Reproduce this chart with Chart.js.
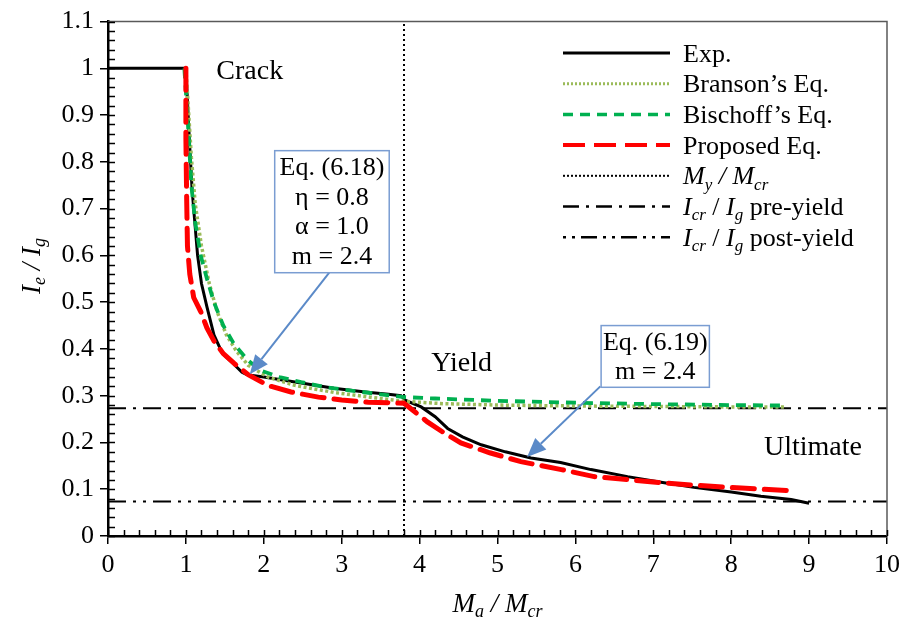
<!DOCTYPE html>
<html>
<head>
<meta charset="utf-8">
<script src="https://cdn.jsdelivr.net/npm/chart.js@4/dist/chart.umd.min.js"></script>
<style>
  html, body { margin: 0; padding: 0; background: #ffffff; }
  #wrap { width: 906px; height: 632px; position: relative; }
</style>
</head>
<body>
<div id="wrap"><canvas id="c" width="906" height="632"></canvas></div>
<script>
// ---- axis ticks ----
const xTickVals = [0, 1, 2, 3, 4, 5, 6, 7, 8, 9, 10];
const xTickLabels = ['0', '1', '2', '3', '4', '5', '6', '7', '8', '9', '10'];
const yTickVals = [0, 0.1, 0.2, 0.3, 0.4, 0.5, 0.6, 0.7, 0.8, 0.9, 1.0, 1.1];
const yTickLabels = ['0', '0.1', '0.2', '0.3', '0.4', '0.5', '0.6', '0.7', '0.8', '0.9', '1', '1.1'];

// ---- experimental curve (Ma/Mcr vs Ie/Ig) ----
const expX = [0, 1.0, 1.02, 1.05, 1.08, 1.11, 1.15, 1.2, 1.27, 1.36, 1.47, 1.6, 1.72, 1.78, 2.0, 2.26, 2.6, 2.9, 3.3, 3.6, 3.76, 3.82, 4.02, 4.2, 4.36, 4.55, 4.79, 5.1, 5.43, 5.81, 6.2, 6.67, 7.1, 7.52, 8.0, 8.38, 8.77, 9.0];
const expY = [1.0, 1.0, 0.93, 0.83, 0.74, 0.68, 0.6, 0.54, 0.49, 0.43, 0.39, 0.37, 0.35, 0.345, 0.34, 0.333, 0.324, 0.316, 0.308, 0.303, 0.3, 0.29, 0.276, 0.255, 0.23, 0.212, 0.195, 0.18, 0.167, 0.157, 0.142, 0.127, 0.115, 0.104, 0.094, 0.085, 0.078, 0.07];

// ---- Branson's equation ----
const bransonX = [1.0, 1.03, 1.07, 1.12, 1.2, 1.3, 1.4, 1.52, 1.65, 1.8, 2.05, 2.4, 2.9, 3.4, 3.8, 4.3, 5.0, 6.0, 7.0, 8.0, 8.7];
const bransonY = [1.0, 0.92, 0.81, 0.71, 0.62, 0.54, 0.48, 0.43, 0.395, 0.365, 0.34, 0.322, 0.307, 0.296, 0.288, 0.283, 0.28, 0.278, 0.277, 0.276, 0.276];

// ---- Bischoff's equation ----
const bischoffX = [0.98, 1.0, 1.03, 1.07, 1.12, 1.19, 1.27, 1.36, 1.48, 1.62, 1.8, 1.96, 2.2, 2.48, 2.8, 3.12, 3.5, 3.8, 4.2, 5.0, 6.0, 7.0, 8.0, 8.7];
const bischoffY = [1.0, 0.95, 0.87, 0.75, 0.67, 0.6, 0.55, 0.5, 0.45, 0.41, 0.375, 0.354, 0.34, 0.329, 0.318, 0.311, 0.303, 0.297, 0.294, 0.289, 0.285, 0.282, 0.28, 0.279];

// ---- proposed equation ----
const proposedX = [1.0, 1.0, 1.01, 1.02, 1.05, 1.1, 1.19, 1.27, 1.36, 1.48, 1.62, 1.8, 2.05, 2.35, 2.7, 3.0, 3.34, 3.6, 3.8, 4.1, 4.3, 4.53, 4.9, 5.3, 5.82, 6.24, 6.7, 7.1, 7.5, 7.96, 8.4, 8.73];
const proposedY = [1.0, 0.85, 0.72, 0.62, 0.56, 0.51, 0.48, 0.445, 0.417, 0.39, 0.369, 0.345, 0.322, 0.308, 0.297, 0.291, 0.286, 0.285, 0.284, 0.244, 0.222, 0.199, 0.178, 0.159, 0.142, 0.127, 0.12, 0.114, 0.109, 0.104, 0.1, 0.097];

// ---- reference lines ----
const yieldRatio = 3.8;          // My / Mcr
const icrPreYield = 0.273;       // Icr / Ig before yield
const icrPostYield = 0.074;      // Icr / Ig after yield

const SERIF = '"Liberation Serif", "Times New Roman", serif';

function pts(xs, ys) { return xs.map((x, i) => ({ x: x, y: ys[i] })); }

// mixed text: segments {t, i (italic), s (subscript)}
function segFont(g, size) {
  const fs = g.s ? Math.round(size * 0.66) : size;
  return (g.i ? 'italic ' : '') + fs + 'px ' + SERIF;
}
function richWidth(ctx, segs, size) {
  let w = 0;
  for (const g of segs) {
    ctx.font = segFont(g, size);
    w += ctx.measureText(g.t).width;
  }
  return w;
}
function drawRich(ctx, segs, x, y, size, align) {
  const w = richWidth(ctx, segs, size);
  let cx = align === 'center' ? x - w / 2 : (align === 'right' ? x - w : x);
  ctx.textBaseline = 'alphabetic';
  ctx.textAlign = 'left';
  const base = y + size * 0.33;
  for (const g of segs) {
    ctx.font = segFont(g, size);
    ctx.fillText(g.t, cx, g.s ? base + size * 0.2 : base);
    cx += ctx.measureText(g.t).width;
  }
}

const legendRows = [
  { segs: [{ t: 'Exp.' }], color: '#000000', width: 2.8, dash: [] },
  { segs: [{ t: 'Branson\u2019s Eq.' }], color: '#9BBB59', width: 3, dash: [2, 2] },
  { segs: [{ t: 'Bischoff\u2019s Eq.' }], color: '#00B050', width: 3.5, dash: [10, 7] },
  { segs: [{ t: 'Proposed Eq.' }], color: '#FF0000', width: 4, dash: [22, 9] },
  { segs: [{ t: 'M', i: 1 }, { t: 'y', i: 1, s: 1 }, { t: ' / ', i: 1 }, { t: 'M', i: 1 }, { t: 'cr', i: 1, s: 1 }], color: '#000000', width: 2, dash: [2, 2] },
  { segs: [{ t: 'I', i: 1 }, { t: 'cr', i: 1, s: 1 }, { t: ' / ' }, { t: 'I', i: 1 }, { t: 'g', i: 1, s: 1 }, { t: ' pre-yield' }], color: '#000000', width: 2.5, dash: [16, 7, 3, 7] },
  { segs: [{ t: 'I', i: 1 }, { t: 'cr', i: 1, s: 1 }, { t: ' / ' }, { t: 'I', i: 1 }, { t: 'g', i: 1, s: 1 }, { t: ' post-yield' }], color: '#000000', width: 2.5, dash: [3, 6, 3, 6, 16, 6] }
];

const callouts = [
  { x1: 2.14, x2: 3.61, y1: 0.824, y2: 0.563, lines: ['Eq. (6.18)', '\u03b7 = 0.8', '\u03b1 = 1.0', 'm = 2.4'],
    from: { x: 2.84, y: 0.563 }, to: { x: 1.82, y: 0.346 } },
  { x1: 6.33, x2: 7.72, y1: 0.45, y2: 0.318, lines: ['Eq. (6.19)', 'm = 2.4'],
    from: { x: 6.32, y: 0.32 }, to: { x: 5.38, y: 0.169 } }
];

const stageLabels = [
  { text: 'Crack', x: 1.82, y: 0.994 },
  { text: 'Yield', x: 4.54, y: 0.369 },
  { text: 'Ultimate', x: 9.05, y: 0.188 }
];

function paintDecorations(chart) {
  const ctx = chart.ctx;
  const xs = chart.scales.x, ys = chart.scales.y;
  const a = chart.chartArea;
  ctx.save();
  ctx.setLineDash([]);

  // frame: top and right edges
  ctx.strokeStyle = '#595959';
  ctx.lineWidth = 1.5;
  ctx.beginPath();
  ctx.moveTo(a.left, a.top);
  ctx.lineTo(a.right, a.top);
  ctx.lineTo(a.right, a.bottom);
  ctx.stroke();

  // inward major and minor ticks
  ctx.strokeStyle = '#000000';
  ctx.lineWidth = 1.5;
  ctx.beginPath();
  for (let k = 0; k <= 50; k++) {
    const px = Math.round(xs.getPixelForValue(k * 0.2)) + 0.5;
    ctx.moveTo(px, a.bottom);
    ctx.lineTo(px, a.bottom - 6);
  }
  for (let k = 0; k <= 55; k++) {
    const py = Math.round(ys.getPixelForValue(k * 0.02)) + 0.5;
    ctx.moveTo(a.left, py);
    ctx.lineTo(a.left + 7, py);
  }
  ctx.stroke();

  // stage labels
  ctx.fillStyle = '#000000';
  ctx.textAlign = 'center';
  ctx.textBaseline = 'middle';
  ctx.font = '28px ' + SERIF;
  for (const s of stageLabels) {
    ctx.fillText(s.text, xs.getPixelForValue(s.x), ys.getPixelForValue(s.y));
  }

  // callout boxes with arrows
  for (const c of callouts) {
    const l = xs.getPixelForValue(c.x1), r = xs.getPixelForValue(c.x2);
    const t = ys.getPixelForValue(c.y1), b = ys.getPixelForValue(c.y2);
    const fx = xs.getPixelForValue(c.from.x), fy = ys.getPixelForValue(c.from.y);
    const tx = xs.getPixelForValue(c.to.x), ty = ys.getPixelForValue(c.to.y);
    const ang = Math.atan2(ty - fy, tx - fx);
    const hl = 19, hw = 8;
    const bx = tx - hl * Math.cos(ang), by = ty - hl * Math.sin(ang);
    ctx.strokeStyle = '#5B8AC8';
    ctx.fillStyle = '#5B8AC8';
    ctx.lineWidth = 2;
    ctx.beginPath();
    ctx.moveTo(fx, fy);
    ctx.lineTo(bx, by);
    ctx.stroke();
    ctx.beginPath();
    ctx.moveTo(tx, ty);
    ctx.lineTo(bx + hw * Math.sin(ang), by - hw * Math.cos(ang));
    ctx.lineTo(bx - hw * Math.sin(ang), by + hw * Math.cos(ang));
    ctx.closePath();
    ctx.fill();
    ctx.fillStyle = '#ffffff';
    ctx.fillRect(l, t, r - l, b - t);
    ctx.strokeStyle = '#7A9DD2';
    ctx.lineWidth = 1.5;
    ctx.strokeRect(l, t, r - l, b - t);
    ctx.fillStyle = '#000000';
    ctx.font = '26px ' + SERIF;
    ctx.textAlign = 'center';
    ctx.textBaseline = 'middle';
    const lh = 29.5;
    const y0 = (t + b) / 2 - (c.lines.length - 1) * lh / 2;
    c.lines.forEach((ln, i) => ctx.fillText(ln, (l + r) / 2, y0 + i * lh + 1));
  }

  // legend
  const lx1 = 563, lx2 = 670, tx0 = 683;
  legendRows.forEach((row, i) => {
    const y = 53 + i * 30.7;
    ctx.strokeStyle = row.color;
    ctx.lineWidth = row.width;
    ctx.setLineDash(row.dash);
    ctx.lineCap = 'butt';
    ctx.beginPath();
    ctx.moveTo(lx1, y);
    ctx.lineTo(lx2, y);
    ctx.stroke();
    ctx.setLineDash([]);
    ctx.fillStyle = '#000000';
    drawRich(ctx, row.segs, tx0, y, 26, 'left');
  });

  // axis titles
  ctx.fillStyle = '#000000';
  drawRich(ctx, [{ t: 'M', i: 1 }, { t: 'a', i: 1, s: 1 }, { t: ' / ', i: 1 }, { t: 'M', i: 1 }, { t: 'cr', i: 1, s: 1 }], (a.left + a.right) / 2, 603, 27, 'center');
  ctx.save();
  ctx.translate(31, 266);
  ctx.rotate(-Math.PI / 2);
  drawRich(ctx, [{ t: 'I', i: 1 }, { t: 'e', i: 1, s: 1 }, { t: ' / ', i: 1 }, { t: 'I', i: 1 }, { t: 'g', i: 1, s: 1 }], 0, 0, 27, 'center');
  ctx.restore();

  ctx.restore();
}

const decorations = {
  id: 'decorations',
  afterDraw(chart) {
    try { paintDecorations(chart); } catch (e) { /* keep the plotted data even if an overlay fails */ }
  }
};

const lineDefaults = { showLine: true, pointRadius: 0, pointHoverRadius: 0, fill: false, tension: 0 };

let chart = null;
function build() {
  if (chart) { chart.destroy(); }
  chart = new Chart(document.getElementById('c'), {
    type: 'scatter',
    data: {
      datasets: [
        Object.assign({ label: 'Proposed Eq.', data: pts(proposedX, proposedY), borderColor: '#FF0000', borderWidth: 5, borderDash: [22, 10], borderCapStyle: 'round', order: 1 }, lineDefaults),
        Object.assign({ label: 'Bischoff\u2019s Eq.', data: pts(bischoffX, bischoffY), borderColor: '#00B050', borderWidth: 3.8, borderDash: [10, 7], order: 2 }, lineDefaults),
        Object.assign({ label: 'Branson\u2019s Eq.', data: pts(bransonX, bransonY), borderColor: '#9BBB59', borderWidth: 3.5, borderDash: [3, 2.5], order: 3 }, lineDefaults),
        Object.assign({ label: 'Exp.', data: pts(expX, expY), borderColor: '#000000', borderWidth: 3, order: 4 }, lineDefaults),
        Object.assign({ label: 'My / Mcr', data: [{ x: yieldRatio, y: 0 }, { x: yieldRatio, y: 1.1 }], borderColor: '#000000', borderWidth: 2, borderDash: [2, 3], order: 5 }, lineDefaults),
        Object.assign({ label: 'Icr / Ig pre-yield', data: [{ x: 0, y: icrPreYield }, { x: 10, y: icrPreYield }], borderColor: '#000000', borderWidth: 2, borderDash: [18, 7, 3, 7], order: 6 }, lineDefaults),
        Object.assign({ label: 'Icr / Ig post-yield', data: [{ x: 0, y: icrPostYield }, { x: 10, y: icrPostYield }], borderColor: '#000000', borderWidth: 2, borderDash: [18, 7, 3, 7, 3, 7], order: 7 }, lineDefaults)
      ]
    },
    options: {
      responsive: false,
      animation: false,
      devicePixelRatio: 1,
      layout: { padding: { top: 18, right: 19, left: 0, bottom: 0 } },
      plugins: { legend: { display: false }, tooltip: { enabled: false } },
      scales: {
        x: {
          type: 'linear', min: 0, max: 10,
          afterBuildTicks: s => { s.ticks = xTickVals.map(v => ({ value: v })); },
          afterFit: s => { s.height = 96; },
          ticks: {
            callback: (v) => xTickLabels[xTickVals.indexOf(v)],
            font: { family: SERIF, size: 26 }, color: '#000000', padding: 6, maxRotation: 0, autoSkip: false
          },
          grid: { drawOnChartArea: false, drawTicks: true, tickLength: 8, color: '#000000', lineWidth: 1.5 },
          border: { display: true, color: '#000000', width: 2.5 }
        },
        y: {
          type: 'linear', min: 0, max: 1.1,
          afterBuildTicks: s => { s.ticks = yTickVals.map(v => ({ value: v })); },
          afterFit: s => { s.width = 108; },
          ticks: {
            callback: (v) => yTickLabels[yTickVals.findIndex(t => Math.abs(t - v) < 1e-9)],
            font: { family: SERIF, size: 26 }, color: '#000000', padding: 6, autoSkip: false
          },
          grid: { drawOnChartArea: false, drawTicks: true, tickLength: 8, color: '#000000', lineWidth: 1.5 },
          border: { display: true, color: '#000000', width: 2.5 }
        }
      }
    },
    plugins: [decorations]
  });
}

build();
// rebuild once the serif faces are in use, so every label picks them up
if (document.fonts && document.fonts.load) {
  document.fonts.load('26px "Liberation Serif"').then(build).catch(() => {});
}
setTimeout(build, 300);
</script>
</body>
</html>
